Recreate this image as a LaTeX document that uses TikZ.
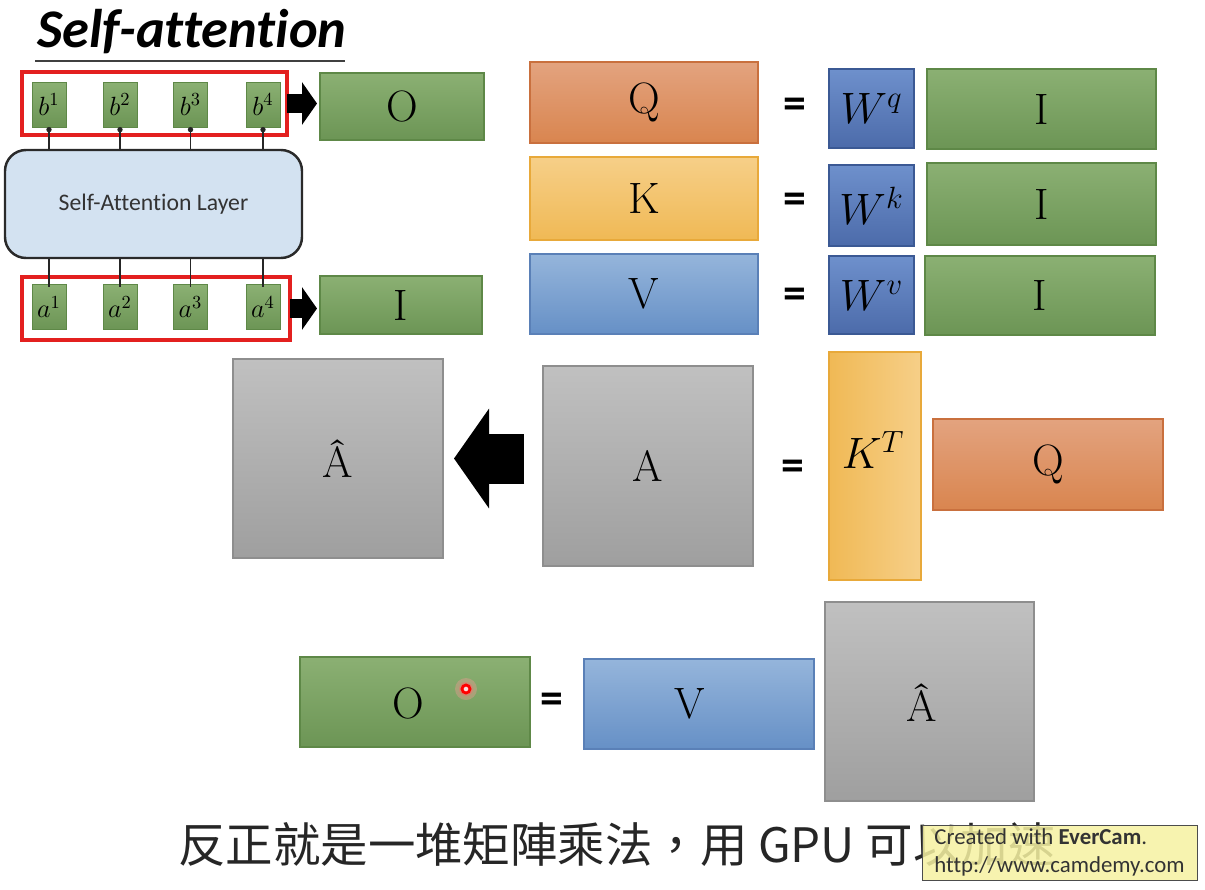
\documentclass[tikz,border=0pt]{standalone}
\usepackage{fix-cm}
\usepackage{fontspec}
\newfontfamily\carlito[Ligatures=NoCommon]{Carlito}
\newfontfamily\cjkfont{Noto Sans CJK TC}
\usetikzlibrary{arrows.meta}
\definecolor{grnT}{HTML}{8BB073}
\definecolor{grnB}{HTML}{6C9555}
\definecolor{grnD}{HTML}{5E8847}
\definecolor{orgT}{HTML}{E3A37F}
\definecolor{orgB}{HTML}{D9854F}
\definecolor{orgD}{HTML}{C9703E}
\definecolor{ylwT}{HTML}{F6CF88}
\definecolor{ylwB}{HTML}{F0B955}
\definecolor{ylwD}{HTML}{E8A93A}
\definecolor{bluT}{HTML}{95B5DB}
\definecolor{bluB}{HTML}{6690C6}
\definecolor{bluD}{HTML}{5A80B7}
\definecolor{wT}{HTML}{6E90CC}
\definecolor{wB}{HTML}{4C6BAA}
\definecolor{wD}{HTML}{3B5994}
\definecolor{gryT}{HTML}{C0C0C0}
\definecolor{gryB}{HTML}{9F9F9F}
\definecolor{gryD}{HTML}{8E8E8E}
\definecolor{layerF}{HTML}{D3E2F1}
\definecolor{layerD}{HTML}{2A2A2A}
\definecolor{redbox}{HTML}{E3201F}
\definecolor{wmF}{HTML}{F6F2A2}
\tikzset{
  sz/.style 2 args={minimum width=#1*0.02cm, minimum height=#2*0.02cm},
  mat/.style={inner sep=0pt, outer sep=0pt, line width=0.7pt, font=\fontsize{25}{30}\selectfont},
  grnbox/.style={mat, draw=grnD, top color=grnT, bottom color=grnB},
  orgbox/.style={mat, draw=orgD, top color=orgT, bottom color=orgB},
  ylwbox/.style={mat, draw=ylwD, top color=ylwT, bottom color=ylwB},
  blubox/.style={mat, draw=bluD, top color=bluT, bottom color=bluB},
  wbox/.style={mat, draw=wD, top color=wT, bottom color=wB},
  grybox/.style={mat, draw=gryD, top color=gryT, bottom color=gryB},
  tok/.style={grnbox, sz={34}{45}, line width=0.4pt, font=\fontsize{15}{17}\selectfont},
  redframe/.style={draw=redbox, line width=1.8pt, inner sep=0pt, outer sep=0pt},
  eqsign/.style={inner sep=0pt, font=\carlito\bfseries\fontsize{26}{30}\selectfont},
  lnk/.style={draw=black!85, line width=0.7pt},
  blockarrow/.style={line width=19*0.02cm, line cap=butt, -{Triangle[length=15*0.02cm, width=42*0.02cm]}},
}
\begin{document}
\begin{tikzpicture}[x=0.02cm,y=-0.02cm]
\path[use as bounding box] (0,0) rectangle (1205,890);
\fill[white] (0,0) rectangle (1205,890);

% title
\node[anchor=base west, inner sep=0pt, font=\carlito\bfseries\itshape\fontsize{31}{36}\selectfont] (title) at (37,47) {Self-attention};
\draw[line width=1.5pt, black!75] (35,61) -- (345,61);

% red frames
\node[redframe, sz={265}{63}] (redtop) at (154.5,103.5) {};
\node[redframe, sz={268}{63}] (redbot) at (156,308.5) {};

% tokens
\node[tok] (b1) at (49,104.5) {$b^1$};
\node[tok] (b2) at (120,104.5) {$b^2$};
\node[tok] (b3) at (190.5,104.5) {$b^3$};
\node[tok] (b4) at (263,104.5) {$b^4$};
\node[tok] (a1) at (49,307) {$a^1$};
\node[tok] (a2) at (120,307) {$a^2$};
\node[tok] (a3) at (190.5,307) {$a^3$};
\node[tok] (a4) at (263,307) {$a^4$};

% layer
\node[draw=layerD, fill=layerF, line width=1.4pt, rounded corners=0.42cm, sz={297}{108}, inner sep=0pt, font=\carlito\fontsize{13.5}{16}\selectfont, text=black!80] (layer) at (153.5,204) {Self-Attention Layer};

\foreach \t in {b1,b2,b3,b4}{
  \draw[lnk, -{Circle[length=3pt]}] (layer.north -| \t.south) -- (\t.south);
}
\foreach \t in {a1,a2,a3,a4}{
  \draw[lnk] (layer.south -| \t.north) -- ([yshift=-2*0.02cm]\t.north);
}

% O and I
\node[grnbox, sz={164}{67}] (Otop) at (402,106.5) {O};
\node[grnbox, sz={162}{58}] (Ileft) at (401,305) {I};
\draw[blockarrow] (redtop.east) -- ([xshift=-3*0.02cm]redtop.east -| Otop.west);
\draw[blockarrow] (redbot.east) -- ([xshift=-3*0.02cm]redbot.east -| Ileft.west);

% Q K V rows
\node[orgbox, sz={228}{81}] (Q) at (644,102.5) {Q};
\node[eqsign] (eq1) at (795,108) {=};
\node[wbox, sz={85}{79}] (Wq) at (871.5,108.5) {$W^q$};
\node[grnbox, sz={229}{80}] (I1) at (1041.5,109) {I};

\node[ylwbox, sz={228}{83}] (K) at (644,198.5) {K};
\node[eqsign] (eq2) at (795,203) {=};
\node[wbox, sz={85}{81}] (Wk) at (871.5,205.5) {$W^k$};
\node[grnbox, sz={229}{82}] (I2) at (1041.5,204) {I};

\node[blubox, sz={228}{80}] (V) at (644,294) {V};
\node[eqsign] (eq3) at (795,298) {=};
\node[wbox, sz={85}{78}] (Wv) at (871.5,295) {$W^v$};
\node[grnbox, sz={230}{79}] (I3) at (1040,295.5) {I};

% attention
\node[grybox, sz={210}{199}] (Ahat) at (338,458.5) {\^{A}};
\node[grybox, sz={210}{200}] (A) at (648,466) {A};
\draw[line width=50*0.02cm, line cap=butt, -{Triangle[length=35*0.02cm, width=98*0.02cm]}, shorten <=19*0.02cm, shorten >=11*0.02cm] (A.west |- Ahat.east) -- (Ahat.east);
\node[eqsign] (eq4) at (793,470) {=};
\node[mat, draw=ylwD, left color=ylwB, right color=ylwT, sz={92}{228}] (KT) at (875,466) {};
\node[inner sep=0pt, font=\fontsize{25}{30}\selectfont] (KTl) at (873,450) {$K^T$};
\node[orgbox, sz={230}{91}] (Q2) at (1048,464.5) {Q};

% output
\node[grnbox, sz={230}{90}] (O2) at (415,702) {};
\node[inner sep=0pt, font=\fontsize{25}{30}\selectfont] (O2l) at (408,703) {O};
\fill[red!40, opacity=0.35] (466,689) circle (11);
\fill[red!60, opacity=0.4] (466,689) circle (7);
\draw[red, line width=1.6pt, fill=red!15] (466,689) circle (4);
\node[eqsign] (eq5) at (552,703) {=};
\node[blubox, sz={230}{90}] (V2) at (699,704) {};
\node[inner sep=0pt, font=\fontsize{25}{30}\selectfont] (V2l) at (690,704) {V};
\node[grybox, sz={209}{199}] (Ahat2) at (929.5,701.5) {};
\node[inner sep=0pt, font=\fontsize{25}{30}\selectfont] (Ahat2l) at (922,703) {\^{A}};

% caption
\node[anchor=west, inner sep=0pt, font=\cjkfont\fontsize{27}{32}\selectfont, text=black!85] (cap) at (178,845) {反正就是一堆矩陣乘法，用 GPU 可以加速};

% watermark
\node[draw=black!70, line width=0.5pt, fill=wmF, fill opacity=0.85, text opacity=1, sz={275}{55}, inner sep=0pt, align=left, font=\carlito\fontsize{13}{16}\selectfont, text=black!80] (wm) at (1059.5,852.5) {Created with \textbf{EverCam}.\\http://www.camdemy.com};
\end{tikzpicture}
\end{document}
